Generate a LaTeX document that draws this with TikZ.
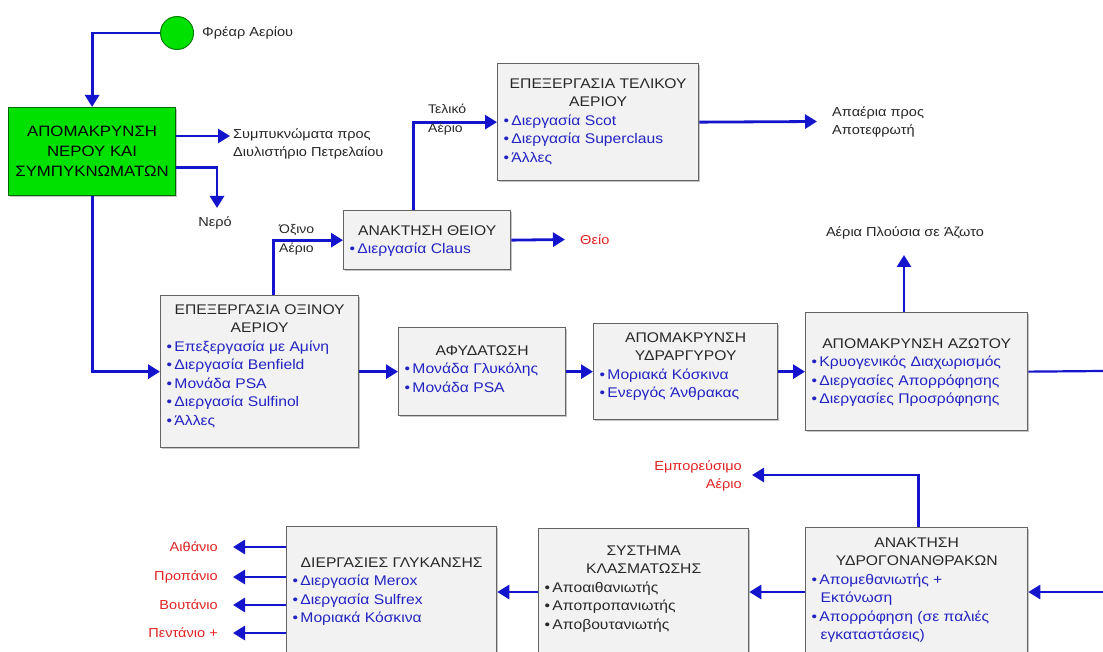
\documentclass[tikz,border=0pt]{standalone}
\usepackage{fontspec}
\setmainfont{Liberation Sans}[FakeStretch=1.12]
\usetikzlibrary{arrows.meta,shadows}

\definecolor{flowblue}{RGB}{20,20,205}
\definecolor{itemblue}{RGB}{35,35,195}
\definecolor{outred}{RGB}{225,35,35}
\definecolor{wellgreen}{RGB}{0,225,0}
\definecolor{boxfill}{RGB}{242,242,242}
\definecolor{boxline}{RGB}{100,100,100}
\definecolor{titlegray}{RGB}{40,40,40}

\newcommand{\boxfont}{\fontsize{14}{18.5}\selectfont}
\newcommand{\lblfont}{\fontsize{13}{18}\selectfont}
\newcommand{\smallfont}{\fontsize{12.5}{19}\selectfont}

% box contents: centred heading, blue bullet item, black bullet item, continued item
\newcommand{\hd}[1]{{\centering\color{titlegray}#1\par}}
\newcommand{\bl}[1]{{\leftskip=6pt\color{itemblue}\noindent•\,#1\par}}
\newcommand{\bk}[1]{{\leftskip=6pt\color{titlegray}\noindent•\,#1\par}}
\newcommand{\bc}[1]{{\leftskip=15pt\color{itemblue}\noindent #1\par}}

% process box: name, left, top, width, height, top padding, contents
\newcommand{\procbox}[7]{%
  \node[procbox] (#1) at (#2,#3)
    {\begin{minipage}[t][#5pt][t]{#4pt}\vspace*{#6pt}#7\end{minipage}};}

\tikzset{
  procbox/.style={draw=boxline, line width=1.3pt, fill=boxfill, inner sep=0pt,
    anchor=north west, font=\boxfont,
    drop shadow={shadow xshift=1.6pt, shadow yshift=-1.6pt, fill=black!45}},
  waterbox/.style={draw=green!40!black, line width=1.2pt, fill=wellgreen,
    anchor=north west, minimum width=167pt, minimum height=88pt, inner sep=0pt,
    align=center, font=\fontsize{15}{20}\selectfont,
    drop shadow={shadow xshift=1.6pt, shadow yshift=-1.6pt, fill=black!45}},
  flow/.style={draw=flowblue, line width=2.8pt, -{Triangle[length=12pt,width=14pt]}},
  flowline/.style={draw=flowblue, line width=2.2pt},
  lbl/.style={font=\lblfont, inner sep=0pt, align=left, text=black!85},
  smalllbl/.style={font=\smallfont, inner sep=0pt, align=left, text=black!85},
  redlbl/.style={font=\lblfont, inner sep=0pt, text=outred}
}

\begin{document}
\begin{tikzpicture}[x=1pt, y=-1pt]
\useasboundingbox (0,0) rectangle (1103,652);
\fill[white] (0,0) rectangle (1103,652);
\clip (0,0) rectangle (1103,652);

% gas well and first separation stage
\node[circle, fill=wellgreen, draw=green!50!black, line width=1pt,
      minimum size=33pt, inner sep=0pt] (well) at (177,33) {};
\node[lbl, anchor=west] (welllbl) at (202,33) {Φρέαρ Αερίου};
\node[waterbox] (water) at (8,107) {ΑΠΟΜΑΚΡΥΝΣΗ\\ΝΕΡΟΥ ΚΑΙ\\ΣΥΜΠΥΚΝΩΜΑΤΩΝ};
\draw[flow] (well.west) -| (water.north);

\coordinate (condtip) at (230,136);
\node[lbl, anchor=west] (cond) at (233,144) {Συμπυκνώματα προς\\Διυλιστήριο Πετρελαίου};
\draw[flow] (water.east |- condtip) -- (condtip);

\coordinate (nerotip) at (217,208);
\node[lbl] (nero) at (215,223) {Νερό};
\draw[flow] ([yshift=-16pt]water.east) -| (nerotip);

% process boxes
\procbox{acid}{160}{295}{198}{152}{9}{%
  \hd{ΕΠΕΞΕΡΓΑΣΙΑ ΟΞΙΝΟΥ\\ΑΕΡΙΟΥ}
  \bl{Επεξεργασία με Αμίνη}\bl{Διεργασία Benfield}\bl{Μονάδα PSA}
  \bl{Διεργασία Sulfinol}\bl{Άλλες}}
\procbox{sulfur}{343}{210}{167}{59}{15}{%
  \hd{ΑΝΑΚΤΗΣΗ ΘΕΙΟΥ}\bl{Διεργασία Claus}}
\procbox{tail}{497}{63}{201}{117}{15}{%
  \hd{ΕΠΕΞΕΡΓΑΣΙΑ ΤΕΛΙΚΟΥ\\ΑΕΡΙΟΥ}
  \bl{Διεργασία Scot}\bl{Διεργασία Superclaus}\bl{Άλλες}}
\procbox{dehyd}{398}{327}{167}{88}{18}{%
  \hd{ΑΦΥΔΑΤΩΣΗ}\bl{Μονάδα Γλυκόλης}\bl{Μονάδα PSA}}
\procbox{merc}{593}{323}{184}{96}{9}{%
  \hd{ΑΠΟΜΑΚΡΥΝΣΗ\\ΥΔΡΑΡΓΥΡΟΥ}\bl{Μοριακά Κόσκινα}\bl{Ενεργός Άνθρακας}}
\procbox{nitro}{805}{312}{222}{118}{26}{%
  \hd{ΑΠΟΜΑΚΡΥΝΣΗ ΑΖΩΤΟΥ}\bl{Κρυογενικός Διαχωρισμός}
  \bl{Διεργασίες Απορρόφησης}\bl{Διεργασίες Προσρόφησης}}
\procbox{hc}{805}{527}{222}{140}{10}{%
  \hd{ΑΝΑΚΤΗΣΗ\\ΥΔΡΟΓΟΝΑΝΘΡΑΚΩΝ}\bl{Απομεθανιωτής +}\bc{Εκτόνωση}
  \bl{Απορρόφηση (σε παλιές}\bc{εγκαταστάσεις)}}
\procbox{frac}{538}{528}{210}{140}{17}{%
  \hd{ΣΥΣΤΗΜΑ\\ΚΛΑΣΜΑΤΩΣΗΣ}\bk{Αποαιθανιωτής}\bk{Αποπροπανιωτής}\bk{Αποβουτανιωτής}}
\procbox{sweet}{286}{526}{210}{140}{31}{%
  \hd{ΔΙΕΡΓΑΣΙΕΣ ΓΛΥΚΑΝΣΗΣ}\bl{Διεργασία Merox}\bl{Διεργασία Sulfrex}\bl{Μοριακά Κόσκινα}}

% acid gas to sulfur recovery and tail gas treatment
\draw[flow] (water.south) |- (acid.west);
\draw[flow] ([xshift=14pt]acid.north) |- (sulfur.west);
\node[smalllbl, anchor=west] (oxlbl) at (279,240) {Όξινο\\Αέριο};
\draw[flow] ([xshift=-13.5pt]sulfur.north) |- (tail.west);
\node[smalllbl, anchor=west] (tellbl) at (428,120) {Τελικό\\Αέριο};

\coordinate (thiotip) at (565,239.5);
\draw[flow] (sulfur.east) -- (thiotip);
\node[redlbl, anchor=west] (thio) at (580,240) {Θείο};

\coordinate (offtip) at (817,121.5);
\draw[flow] (tail.east) -- (offtip);
\node[lbl, anchor=west] (offgas) at (832,122) {Απαέρια προς\\Αποτεφρωτή};

% main gas train
\draw[flow] (acid.east) -- (dehyd.west);
\draw[flow] (dehyd.east) -- (merc.west);
\draw[flow] (merc.east) -- (nitro.west);

\coordinate (n2tip) at (904,255);
\draw[flow] (nitro.north -| n2tip) -- (n2tip);
\node[lbl] (n2lbl) at (905,233) {Αέρια Πλούσια σε Άζωτο};

\coordinate (edgeA) at (1103,371);
\coordinate (edgeB) at (1103,592);
\draw[flowline] (nitro.east) -- (edgeA);
\draw[flow] (edgeB) -- (hc.east |- edgeB);
\draw[flow] (hc.west |- edgeB) -- (frac.east |- edgeB);
\draw[flow] (frac.west |- edgeB) -- (sweet.east |- edgeB);

\coordinate (saletip) at (752,475);
\draw[flow] ([xshift=2pt]hc.north) |- (saletip);
\node[redlbl, anchor=east, align=right] (sale) at (742,476) {Εμπορεύσιμο\\Αέριο};

% liquid products
\foreach \n/\yy/\t in {o1/547/Αιθάνιο, o2/577/Προπάνιο, o3/605/Βουτάνιο, o4/633/Πεντάνιο +} {
  \coordinate (tip\n) at (233,\yy);
  \node[redlbl, anchor=east] (\n) at (218,\yy) {\t};
  \draw[flow] (sweet.west |- tip\n) -- (tip\n);
}
\end{tikzpicture}
\end{document}
